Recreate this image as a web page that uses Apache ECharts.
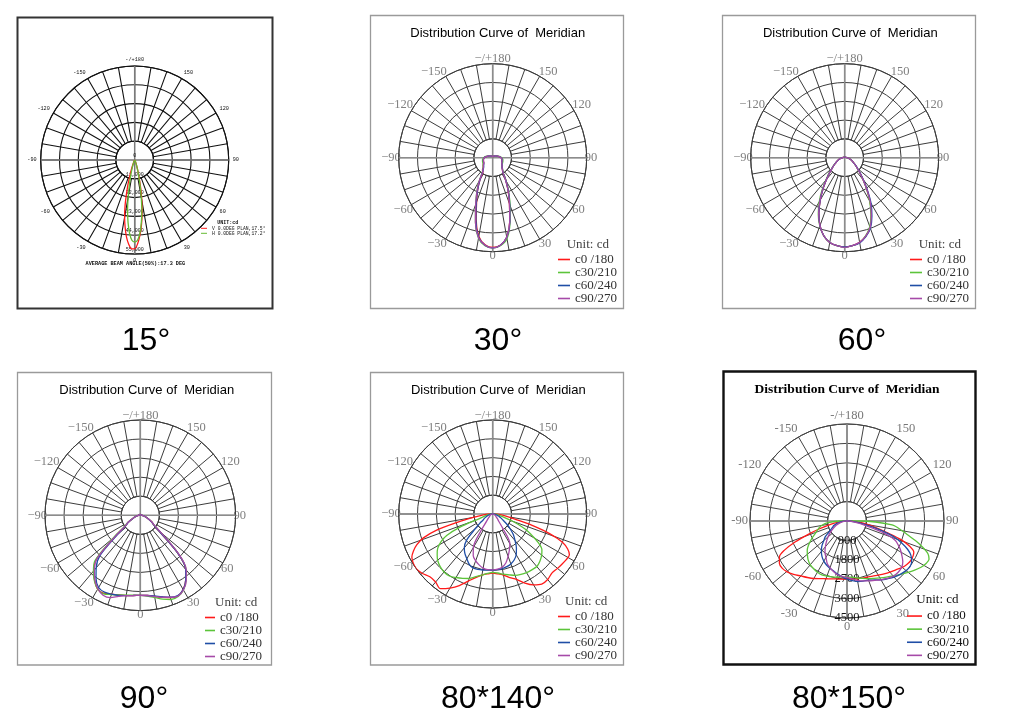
<!DOCTYPE html>
<html><head><meta charset="utf-8">
<script src="https://cdn.jsdelivr.net/npm/echarts@6/dist/echarts.min.js"></script>
<style>html,body{margin:0;padding:0;background:#fff}#c{width:1011px;height:724px}</style>
</head><body><div id="c"></div>
<script>
// ---------------- DATA ----------------
// Panel 1 (15°): gamma angles (deg) and intensity (cd)
const p1Angles = [-90,-60,-40,-30,-25,-20,-17,-15,-12,-10,-8,-6,-4,-2,0,2,4,6,8,10,12,15,17,20,25,30,40,60,90];
const p1V = [0,100,300,600,1500,5000,10000,16000,27000,34000,40000,45500,49500,52000,52000,49000,44000,38000,31000,24000,17000,9000,5500,3000,1200,600,300,100,0];
const p1H = [0,100,200,500,1200,2500,5000,8000,15000,22000,30000,37000,43000,47000,48000,47000,43000,37000,30000,22000,15000,8000,5000,2500,1200,500,200,100,0];
const p1Names = ['V 0.0DEG PLAN,17.5°', 'H 0.0DEG PLAN,17.2°'];

// Panels 2-4: relative intensity (% of outer ring)
const lobeAngles = [-180,-150,-120,-100,-90,-80,-70,-60,-55,-50,-45,-40,-35,-30,-25,-20,-15,-10,-5,0,5,10,15,20,25,30,35,40,45,50,55,60,70,80,90,100,120,150,180];
const p2C0  = [1,2,4,7,9,10,10.5,11,12,13,14,17,18,27,38,50,68,85,93,95.5,93.5,86,70,52,39,28,19,16,14,13,12,11,10.5,10,9,7,4,2,1];
const p2C30 = [1,2,4,7.5,9.5,11,11.5,12,12.5,13.5,14.5,16.5,19.5,29,40,53,71,87,94,96,94,87.5,71,54,40,28.5,19.5,16.5,14.5,13.5,12.5,12,11.5,11,9.5,7.5,4,2,1];
const p2C60 = [1,2,4,7,9,10,10.5,11,11.5,12.5,13.5,15.5,18.5,27,38,51,69,86,93.5,96,93.5,86,70.5,53,39.5,28,19,16,14,13,12,11,10.5,10,9,7,4,2,1];
const p2C90 = [1,2,4,7,9,10,10.5,11,12,13,14,16,19,28.5,39.5,53,71,86.5,93.5,96,93.5,86,70,52,39,27.5,19,16,14,13,12,11,10.5,10,9,7,4,2,1];

const p3C0  = [1,1,1,1.5,2.5,4.5,7.5,11,14,17.5,23,30,40,52,65,77,86,91.5,94,95,94,91.5,86.5,79,67,54,41,30.5,23,17.5,14,11,7.5,4.5,2.5,1.5,1,1,1];
const p3C30 = [1,1,1,1.5,2.5,4.5,7.5,11.5,14.5,18,24,31,42,54,66.5,77.5,86,91.5,94,95,94,91.5,86,78,66,53,40.5,30,23,17.5,14,11,7.5,4.5,2.5,1.5,1,1,1];
const p3C60 = [1,1,1,1.5,2.5,4.5,7.5,11,14,17.5,23,30,40,52,65,77,86,91.5,94,95,94,92,87,80,68.5,56,42,31,23.5,18,14,11,7.5,4.5,2.5,1.5,1,1,1];
const p3C90 = [1,1,1,1.5,2.5,4.5,7.5,11,14,17.5,23,30,40.5,52.5,65.5,77,86,91.5,94,95.5,94,91.5,86.5,79,67,54.5,41,30.5,23,17.5,14,11,7.5,4.5,2.5,1.5,1,1,1];

const p4C0  = [1,1,1,1.5,2,4,7,15,18.5,34,65,75.5,83.5,89.5,90.5,88,86.5,85.5,84.5,84,84.5,86.5,89,92,93.5,90,83,74,54,26,17,13.7,7,4,2,1.5,1,1,1];
const p4C30 = [1,1,1,1.5,2,4,7,15.5,19.5,37,67,76.5,84,89.5,91,88.5,86.5,85,84,84,85,87.5,91,94,94,90.5,83.5,74.5,55,27,17,13.7,7,4,2,1.5,1,1,1];
const p4C60 = [1,1,1,1.5,2,4,7,14.5,18,31,60,72,81,87.5,89,88,87,85.5,84.5,84,84.5,86,88.5,91.5,93,90,83,74,54,26,17,13.5,7,4,2,1.5,1,1,1];
const p4C90 = [1,1,1,1.5,2,4,7,15,18.5,34,64,75,83,89,92.5,92,88,85.5,84.5,84,84.5,86.5,89,91.5,93.5,90.5,84,75,56,28,17.5,14,7,4,2,1.5,1,1,1];

// Panels 5-6: wide beams
const wideAngles = [-180,-90,-85,-80,-77,-74,-71,-68,-65,-62,-58,-54,-50,-45,-40,-35,-30,-25,-20,-15,-10,-5,0,5,10,15,20,25,30,35,40,45,50,54,58,62,65,68,71,74,77,80,85,90,180];
// Panel 5 (% of outer ring)
const p5C0  = [0,3,10,22,38,62,78,87,93,97.4,99.5,100,98,94.5,94.5,97,91,84,76,70,66,64,63,64,66,70,74,81,87,91,91,89,90,91,92,92.4,88,80,64,43,25,16,8,3,0];
const p5C30 = [0,2,4,6,8,10,15,38,54,62,69,73,76.5,79,80.5,80.5,78,75.5,73,69,66,63.5,62,63,65,67,69.5,71,72,72.5,73,71,68,64.7,57,46,38,29,19.5,12,8,6,4,2,0];
const p5C60 = [0,1,2,3,4,5,6,7,8.5,10,12,17,24,39,47,51.5,55,59,61,61,60.5,60,59.6,59.5,59,58,56.5,54,50,44,37,31,24,19,14,11,9,7.5,6,5,4,3,2,1,0];
const p5C90 = [0,0.5,0.7,1,1.2,1.5,1.8,2,2.5,3,3.5,4,5,7,10,22,41,49,53,56,58.5,59.5,59.5,59,57.5,54,48,42,36.5,19,10,7,5,4,3.5,3,2.5,2,1.8,1.5,1.2,1,0.7,0.5,0];
// Panel 6 (cd)
const p6C0  = [0,50,300,600,900,1350,1900,2600,3200,3550,3700,3720,3650,3500,3330,3200,3080,2950,2850,2780,2730,2710,2700,2710,2720,2740,2770,2820,2900,3000,3100,3200,3350,3430,3480,3470,3420,3150,2650,1900,1400,1000,500,100,0];
const p6C30 = [0,300,900,1200,1300,1400,1500,1600,1750,1900,2100,2280,2400,2550,2650,2700,2740,2760,2720,2680,2640,2610,2600,2620,2680,2760,2850,2940,3050,3180,3330,3500,3700,3880,4050,4170,4200,4050,3700,3300,2900,2600,2100,600,0];
const p6C60 = [0,50,200,350,450,550,650,700,760,850,1000,1250,1400,1650,1850,2020,2150,2250,2330,2400,2500,2600,2700,2780,2850,2890,2920,3020,3150,3270,3400,3500,3580,3610,3540,3350,3100,2750,2350,1750,1200,750,300,100,0];
const p6C90 = [0,30,100,200,280,360,450,540,630,720,850,1000,1150,1350,1560,1780,1950,2170,2300,2430,2530,2590,2620,2700,2800,2880,2960,3040,3150,3250,3340,3360,3320,3200,3000,2800,2620,2420,2000,1300,800,500,200,50,0];

const cNames = ['c0 /180', 'c30/210', 'c60/240', 'c90/270'];
const cColors = ['#ff1a1a', '#5cc43a', '#1f4ea6', '#a64aa8'];
const captions = ['15°', '30°', '60°', '90°', '80*140°', '80*150°'];
const titleText = 'Distribution Curve of  Meridian';

// ---------------- LAYOUT / STYLE ----------------
const polar = [], angleAxis = [], radiusAxis = [], series = [], legend = [], elements = [];

function angleLabel(v, minus) {
  if (v === 360 || v % 30 !== 0) return '';
  if (v === 180) return minus + '/+180';
  if (v > 180) return minus + (360 - v);
  return String(v);
}

function addPanel(p) {
  const gi = polar.length;
  polar.push({center: [p.cx, p.cy], radius: [p.R / 5, p.R]});
  angleAxis.push({
    polarIndex: gi, type: 'value', min: 0, max: 360, interval: 10, startAngle: 270, clockwise: false, z: 0,
    axisLine: {show: true, lineStyle: {color: p.grid, width: p.gw}},
    axisTick: {show: false},
    axisLabel: {show: true, margin: p.lm, color: p.lc, fontFamily: p.lf, fontSize: p.ls,
      formatter: v => angleLabel(v, p.minus)},
    splitLine: {show: true, lineStyle: {color: p.grid, width: p.gw}}
  });
  radiusAxis.push({
    polarIndex: gi, type: 'value', min: p.max / 5, max: p.max, interval: p.max / 5, z: 2,
    axisLine: {show: false}, axisTick: {show: false},
    axisLabel: p.rl ? Object.assign({show: true, margin: 0, align: 'center', showMinLabel: true, showMaxLabel: true}, p.rl) : {show: false},
    splitLine: {show: true, lineStyle: {color: p.grid, width: p.gw}}
  });
  // white hole in the middle of the grid (spokes start at the first ring)
  elements.push({type: 'circle', silent: true, z: 1, shape: {cx: p.cx, cy: p.cy, r: p.R / 5},
    style: {fill: '#fff', stroke: p.grid, lineWidth: p.gw}});
  const di = polar.length;
  polar.push({center: [p.cx, p.cy], radius: [0, p.R]});
  angleAxis.push({
    polarIndex: di, type: 'value', min: -180, max: 180, interval: 90, startAngle: 90, clockwise: false, z: 2,
    axisLine: {show: false}, axisTick: {show: false}, axisLabel: {show: false},
    splitLine: {show: true, lineStyle: {color: p.cross, width: p.cw}}
  });
  radiusAxis.push({
    polarIndex: di, type: 'value', min: 0, max: p.max, z: 2,
    axisLine: {show: false}, axisTick: {show: false}, splitLine: {show: false},
    axisLabel: p.zero ? Object.assign({show: true, margin: 0, align: 'center', verticalAlign: 'bottom', showMinLabel: true,
      formatter: v => (v === 0 ? '0' : '')}, p.zero) : {show: false}
  });
  p.curves.forEach(c => {
    series.push({
      type: 'line', name: c.name, coordinateSystem: 'polar', polarIndex: di,
      data: p.angles.map((a, i) => [c.values[i], a]),
      showSymbol: false, smooth: 0.3, silent: true, z: 3,
      lineStyle: {color: c.color, width: p.lw}, itemStyle: {color: c.color}
    });
  });
  legend.push(Object.assign({
    orient: 'vertical', padding: 0, itemGap: 0, icon: 'rect', selectedMode: false,
    data: p.curves.map(c => c.name), itemStyle: {borderWidth: 0}
  }, p.leg));
}

const serifLbl = {lm: -2, lc: '#808080', lf: 'Liberation Serif', ls: 12.5, minus: '\u2212',
  grid: '#3c3c3c', gw: 1, cross: '#8c8c8c', cw: 1.6, lw: 1.3};
const legStyle = (left, top) => ({left: left, top: top, itemWidth: 12, itemHeight: 1.6,
  textStyle: {fontFamily: 'Liberation Serif', fontSize: 13, color: '#333', lineHeight: 12.5}});
const four = (vals) => vals.map((v, i) => ({name: cNames[i], color: cColors[i], values: v}));

// Panel 1
addPanel({cx: 134.7, cy: 160, R: 94, max: 55000, angles: p1Angles,
  lm: 4, lc: '#111', lf: 'Liberation Mono', ls: 5.2, minus: '-',
  grid: '#111', gw: 1.1, cross: '#7a7a7a', cw: 1.5, lw: 1.3,
  rl: {fontFamily: 'Liberation Mono', fontSize: 5, color: '#111', verticalAlign: 'bottom', padding: [0, 0, 2, 0]},
  zero: {fontFamily: 'Liberation Mono', fontSize: 5, color: '#111', padding: [0, 0, 2, 0]},
  curves: [{name: p1Names[0], color: '#ff1a1a', values: p1V}, {name: p1Names[1], color: '#66bb33', values: p1H}],
  leg: {left: 201, top: 225.8, itemWidth: 6, itemHeight: 1,
    textStyle: {fontFamily: 'Liberation Mono', fontSize: 4.7, color: '#111', lineHeight: 5}}
});
// Panel 2
addPanel(Object.assign({cx: 492.7, cy: 157.7, R: 94, max: 100, angles: lobeAngles,
  curves: four([p2C0, p2C30, p2C60, p2C90]), leg: legStyle(558, 253)}, serifLbl));
// Panel 3
addPanel(Object.assign({cx: 844.7, cy: 157.7, R: 94, max: 100, angles: lobeAngles,
  curves: four([p3C0, p3C30, p3C60, p3C90]), leg: legStyle(910, 253)}, serifLbl));
// Panel 4
addPanel(Object.assign({cx: 140.3, cy: 515.3, R: 95.3, max: 100, angles: lobeAngles,
  curves: four([p4C0, p4C30, p4C60, p4C90]), leg: Object.assign(legStyle(205, 611), {itemWidth: 10})}, serifLbl));
// Panel 5
addPanel(Object.assign({cx: 492.7, cy: 514, R: 94, max: 100, angles: wideAngles,
  curves: four([p5C0, p5C30, p5C60, p5C90]), leg: legStyle(558, 610)}, serifLbl));
// Panel 6
addPanel({cx: 847, cy: 521, R: 97, max: 4500, angles: wideAngles,
  lm: 2, lc: '#777', lf: 'Liberation Serif', ls: 12.5, minus: '-',
  grid: '#444', gw: 1, cross: '#8c8c8c', cw: 1.5, lw: 1.3,
  rl: {fontFamily: 'Liberation Serif', fontSize: 12.5, color: '#111', verticalAlign: 'middle', padding: [0, 0, 5, 0],
    formatter: v => String(v)},
  curves: four([p6C0, p6C30, p6C60, p6C90]),
  leg: {left: 907, top: 609.5, itemWidth: 15, itemHeight: 1.6,
    textStyle: {fontFamily: 'Liberation Serif', fontSize: 13, color: '#111', lineHeight: 13.1}}
});

// ---------------- TEXT & FRAMES ----------------
function txt(x, y, text, font, opts) {
  const o = Object.assign({fill: '#000', align: 'center', verticalAlign: 'middle'}, opts || {});
  elements.push({type: 'text', x: x, y: y, silent: true, z: 20,
    style: Object.assign({text: text, font: font, textAlign: o.align, textVerticalAlign: o.verticalAlign}, o)});
}
function frame(x, y, w, h, stroke, lw) {
  elements.push({type: 'rect', silent: true, z: 5, shape: {x: x, y: y, width: w, height: h},
    style: {fill: 'none', stroke: stroke, lineWidth: lw}});
}
frame(17.5, 17.5, 255, 291, '#333', 2);
frame(370.5, 15.5, 253, 293, '#9a9a9a', 1.3);
frame(722.5, 15.5, 253, 293, '#9a9a9a', 1.3);
frame(17.5, 372.5, 254, 292.5, '#9a9a9a', 1.3);
frame(370.5, 372.5, 253, 292.5, '#9a9a9a', 1.3);
frame(723.5, 371.5, 252, 293, '#111', 2.4);

const sansTitle = '13px "Liberation Sans", Arial, sans-serif';
txt(497.7, 33.3, titleText, sansTitle);
txt(850.3, 33.3, titleText, sansTitle);
txt(146.7, 390.7, titleText, sansTitle);
txt(498.3, 390, titleText, sansTitle);
txt(847, 390, titleText, 'bold 13.5px "Liberation Serif", serif');

const unitFont = '13px "Liberation Serif", serif';
txt(566.7, 245, 'Unit: cd', unitFont, {align: 'left', fill: '#444'});
txt(918.7, 245, 'Unit: cd', unitFont, {align: 'left', fill: '#444'});
txt(215, 602.3, 'Unit: cd', unitFont, {align: 'left', fill: '#444'});
txt(565, 601.7, 'Unit: cd', unitFont, {align: 'left', fill: '#444'});
txt(916.3, 600, 'Unit: cd', unitFont, {align: 'left', fill: '#111'});

txt(217.3, 222.3, 'UNIT:cd', 'bold 5px "Liberation Mono", monospace', {align: 'left', fill: '#111'});
txt(135.4, 263.3, 'AVERAGE BEAM ANGLE(50%):17.3 DEG', 'bold 5.2px "Liberation Mono", monospace', {fill: '#111'});

const capFont = '32px "Liberation Sans", Arial, sans-serif';
txt(146, 341, captions[0], capFont);
txt(498, 341, captions[1], capFont);
txt(862, 341, captions[2], capFont);
txt(144, 699, captions[3], capFont);
txt(498, 699, captions[4], capFont);
txt(849, 699, captions[5], capFont);

const chart = echarts.init(document.getElementById('c'), null, {renderer: 'canvas'});
chart.setOption({
  animation: false,
  backgroundColor: '#fff',
  polar: polar, angleAxis: angleAxis, radiusAxis: radiusAxis,
  legend: legend, series: series,
  graphic: {elements: elements}
});
</script></body></html>
